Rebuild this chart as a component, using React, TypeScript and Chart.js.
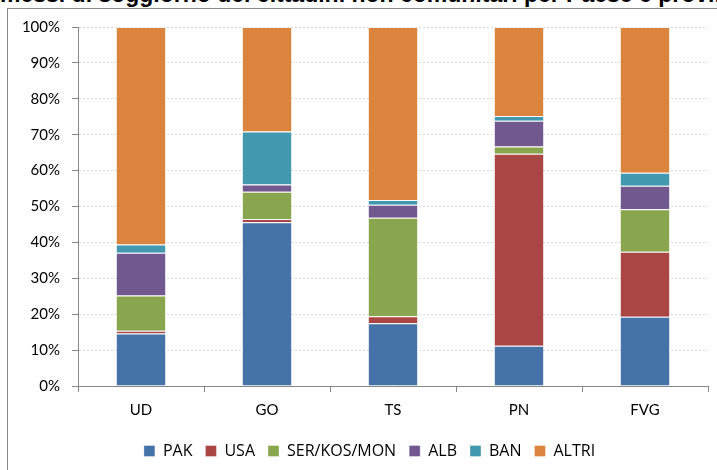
import React, { useEffect, useRef } from "react";
import { Chart, registerables } from "chart.js";

Chart.register(...registerables);

const categories = ["UD", "GO", "TS", "PN", "FVG"];
const seriesNames = ["PAK", "USA", "SER/KOS/MON", "ALB", "BAN", "ALTRI"];
const pak = [14.6, 45.6, 17.5, 11.2, 19.3];
const usa = [0.8, 0.9, 1.9, 53.5, 18.1];
const serKosMon = [9.8, 7.6, 27.5, 2.0, 11.8];
const alb = [11.9, 2.0, 3.6, 7.2, 6.6];
const ban = [2.3, 14.8, 1.3, 1.3, 3.6];
const altri = [60.6, 29.1, 48.2, 24.8, 40.6];
const yTicks = [0, 10, 20, 30, 40, 50, 60, 70, 80, 90, 100];

const colors = ["#4572A7", "#AA4643", "#89A54E", "#71588F", "#4198AF", "#DB843D"];
const FONT = "Lato, 'Open Sans', sans-serif";
const LEGEND_FONT = "'Open Sans', Lato, sans-serif";

export default function App() {
  const ref = useRef<HTMLCanvasElement>(null);
  useEffect(() => {
    if (!ref.current) return;
    const values = [pak, usa, serKosMon, alb, ban, altri];
    const chart = new Chart(ref.current, {
      type: "bar",
      data: {
        labels: categories,
        datasets: seriesNames.map((name, i) => ({
          label: name,
          data: values[i],
          backgroundColor: colors[i],
          borderColor: "rgba(255,255,255,0.35)",
          borderWidth: 1,
          barPercentage: 0.4,
          categoryPercentage: 1,
        })),
      },
      options: {
        responsive: false,
        animation: false,
        devicePixelRatio: 1,
        layout: { padding: { left: 14, right: 0, top: 18, bottom: 1 } },
        plugins: {
          tooltip: { enabled: false },
          legend: {
            position: "bottom",
            labels: {
              boxWidth: 11,
              boxHeight: 11,
              padding: 13,
              color: "#000",
              font: { family: LEGEND_FONT, size: 16 },
            },
          },
        },
        scales: {
          x: {
            stacked: true,
            afterFit: (s: any) => {
              s.height = 44;
            },
            grid: {
              offset: true,
              drawOnChartArea: false,
              drawTicks: true,
              tickLength: 6,
              tickColor: "#868686",
            },
            border: { color: "#868686", width: 1 },
            ticks: { color: "#000", padding: 9, font: { family: FONT, size: 15 } },
          },
          y: {
            stacked: true,
            min: 0,
            max: 100,
            afterFit: (s: any) => {
              s.width = 56;
            },
            afterBuildTicks: (s: any) => {
              s.ticks = yTicks.map((v) => ({ value: v }));
            },
            grid: {
              color: "#d9d9d9",
              tickColor: "#868686",
              tickLength: 6,
              tickBorderDash: [],
            },
            border: { color: "#868686", width: 1, dash: [2, 2] },
            ticks: {
              color: "#000",
              padding: 12,
              font: { family: FONT, size: 15, lineHeight: 0.5 },
              callback: (v: any) => v + "%",
            },
          },
          spacer: {
            type: "linear",
            position: "right",
            display: true,
            afterFit: (s: any) => {
              s.width = 9;
            },
            grid: { display: false, drawTicks: false },
            border: { display: false },
            ticks: { display: false },
          },
        },
      },
    });
    return () => chart.destroy();
  }, []);

  return (
    <div style={{ position: "fixed", left: 0, top: 0, width: 717, height: 470, overflow: "hidden", background: "#fff" }}>
      <div
        style={{
          position: "absolute",
          left: 0,
          top: -17.5,
          lineHeight: "23px",
          fontSize: 23,
          fontWeight: "bold",
          fontFamily: "'Liberation Sans', Arial, sans-serif",
          whiteSpace: "nowrap",
          color: "#000",
        }}
      >
        <span style={{ position: "absolute", right: "100%" }}>Per</span>
        messi di soggiorno dei cittadini non comunitari per Paese e provincia
      </div>
      <div
        style={{
          position: "absolute",
          left: 7,
          top: 8,
          width: 800,
          height: 600,
          border: "1px solid #898989",
        }}
      />
      <canvas ref={ref} width={709} height={461} style={{ position: "absolute", left: 8, top: 9 }} />
    </div>
  );
}
